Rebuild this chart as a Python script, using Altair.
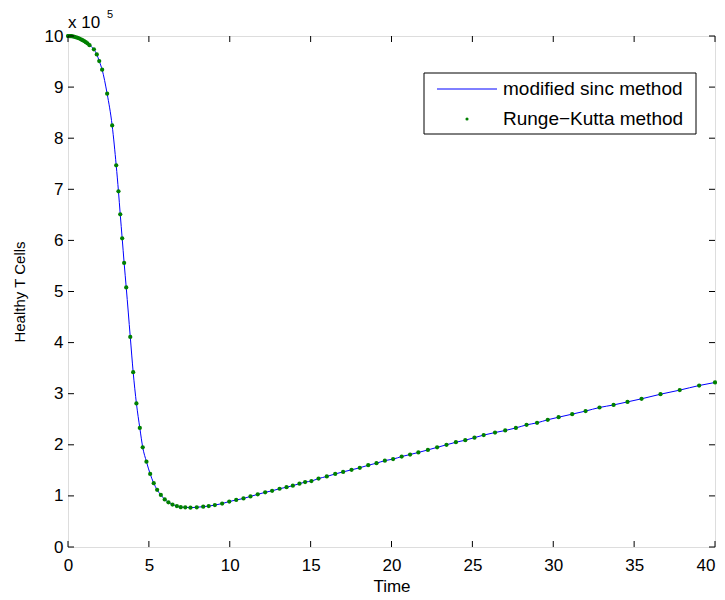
import altair as alt
import pandas as pd

# Runge-Kutta sample times and values (Healthy T cells)
t_vals = [0, 0.02, 0.05, 0.1, 0.15, 0.2, 0.3, 0.4, 0.5, 0.6, 0.7, 0.8, 0.9, 1.0, 1.1, 1.2,
          1.33, 1.6, 1.78, 1.93, 2.11, 2.42, 2.73, 2.98, 3.12, 3.23, 3.35, 3.47, 3.6, 3.85,
          4.03, 4.23, 4.44, 4.62, 4.85, 5.08, 5.3, 5.51, 5.74, 5.98, 6.21, 6.46, 6.73, 6.97,
          7.25, 7.57, 7.96, 8.36, 8.7, 9.08, 9.53, 9.97, 10.4, 10.85, 11.28, 11.73, 12.19,
          12.62, 13.08, 13.51, 13.9, 14.31, 14.66, 15.05, 15.49, 16.0, 16.52, 17.01, 17.53,
          18.04, 18.56, 19.07, 19.59, 20.1, 20.63, 21.15, 21.66, 22.25, 22.82, 23.4, 23.98,
          24.56, 25.13, 25.7, 26.4, 27.03, 27.69, 28.35, 29.0, 29.66, 30.33, 31.17, 32.0,
          32.86, 33.73, 34.59, 35.46, 36.63, 37.82, 39.02, 40.0]
cells_e5 = [10.0, 10.0, 10.0, 9.999, 9.998, 9.996, 9.991, 9.984, 9.975, 9.964, 9.951, 9.936,
            9.919, 9.90, 9.879, 9.856, 9.82, 9.74, 9.64, 9.51, 9.34, 8.87, 8.25, 7.47, 6.96,
            6.51, 6.04, 5.56, 5.08, 4.11, 3.42, 2.81, 2.33, 1.95, 1.67, 1.43, 1.25, 1.12, 1.02,
            0.93, 0.875, 0.83, 0.80, 0.78, 0.777, 0.77, 0.777, 0.79, 0.80, 0.82, 0.85, 0.89,
            0.92, 0.95, 0.99, 1.03, 1.07, 1.10, 1.14, 1.17, 1.20, 1.24, 1.27, 1.29, 1.34, 1.38,
            1.43, 1.47, 1.51, 1.55, 1.60, 1.64, 1.69, 1.72, 1.77, 1.81, 1.85, 1.90, 1.95, 2.00,
            2.05, 2.09, 2.14, 2.19, 2.24, 2.28, 2.33, 2.39, 2.43, 2.49, 2.54, 2.60, 2.66, 2.73,
            2.78, 2.84, 2.90, 2.99, 3.07, 3.16, 3.22]

x_ticks = [0, 5, 10, 15, 20, 25, 30, 35, 40]
y_ticks_e5 = [0, 1, 2, 3, 4, 5, 6, 7, 8, 9, 10]
legend_labels = ["modified sinc method", "Runge\u2212Kutta method"]

W, H = 647, 511
FONT = "Liberation Sans"

df = pd.DataFrame({"t": t_vals, "cells": [v * 1e5 for v in cells_e5]})
xt = pd.DataFrame({"t": x_ticks})
yt = pd.DataFrame({"cells": [v * 1e5 for v in y_ticks_e5]})

xscale = alt.Scale(domain=[0, 40], nice=False, zero=False)
yscale = alt.Scale(domain=[0, 1e6], nice=False, zero=False)

xaxis = alt.Axis(values=x_ticks, ticks=False, domain=False, grid=False, labelFontSize=17,
                 labelPadding=10, labelColor="black", labelFont=FONT, title="Time",
                 labelAlign={"condition": {"test": "datum.value == 40", "value": "right"},
                             "value": "center"},
                 titleFont=FONT, titleFontSize=17, titleFontWeight="normal",
                 titleColor="black", titlePadding=5, labelFlush=False)
yaxis = alt.Axis(values=[v * 1e5 for v in y_ticks_e5], ticks=False, domain=False, grid=False,
                 labelFontSize=17, labelPadding=5, labelColor="black", labelFont=FONT,
                 labelExpr="format(datum.value / 100000, 'd')", title="Healthy T Cells",
                 titleFont=FONT, titleFontSize=15, titleFontWeight="normal",
                 titleColor="black", titlePadding=17, labelFlush=False)

line = alt.Chart(df).mark_line(color="#0000ff", strokeWidth=1, interpolate="monotone").encode(
    x=alt.X("t:Q", scale=xscale, axis=xaxis),
    y=alt.Y("cells:Q", scale=yscale, axis=yaxis),
)
pts = alt.Chart(df).mark_circle(color="#008000", size=18, opacity=1).encode(
    x=alt.X("t:Q", scale=xscale),
    y=alt.Y("cells:Q", scale=yscale),
)

tick_len = 6
bt = alt.Chart(xt).mark_rule(color="black", strokeWidth=1).encode(
    x=alt.X("t:Q", scale=xscale), y=alt.value(H), y2=alt.value(H - tick_len))
tt = alt.Chart(xt).mark_rule(color="black", strokeWidth=1).encode(
    x=alt.X("t:Q", scale=xscale), y=alt.value(0), y2=alt.value(tick_len))
lt = alt.Chart(yt).mark_rule(color="black", strokeWidth=1).encode(
    y=alt.Y("cells:Q", scale=yscale), x=alt.value(0), x2=alt.value(tick_len))
rt = alt.Chart(yt).mark_rule(color="black", strokeWidth=1).encode(
    y=alt.Y("cells:Q", scale=yscale), x=alt.value(W), x2=alt.value(W - tick_len))

# Legend box
one = pd.DataFrame({"k": [0]})
lbox = alt.Chart(one).mark_rect(fill="white", stroke="black", strokeWidth=1).encode(
    x=alt.value(356), x2=alt.value(628), y=alt.value(37), y2=alt.value(98))
lline = alt.Chart(one).mark_rule(color="#0000ff", strokeWidth=1).encode(
    x=alt.value(369), x2=alt.value(429), y=alt.value(53))
ldot = alt.Chart(one).mark_circle(color="#008000", size=10, opacity=1).encode(
    x=alt.value(399), y=alt.value(83))
ltxt1 = alt.Chart(pd.DataFrame({"label": [legend_labels[0]]})).mark_text(
    align="left", baseline="middle", font=FONT, fontSize=19, color="black").encode(
    x=alt.value(435), y=alt.value(53), text="label:N")
ltxt2 = alt.Chart(pd.DataFrame({"label": [legend_labels[1]]})).mark_text(
    align="left", baseline="middle", font=FONT, fontSize=19, color="black").encode(
    x=alt.value(435), y=alt.value(83), text="label:N")

# exponent label
exp1 = alt.Chart(pd.DataFrame({"s": ["x 10"]})).mark_text(
    align="left", baseline="middle", font=FONT, fontSize=17, color="black").encode(
    x=alt.value(0), y=alt.value(-13), text="s:N")
exp2 = alt.Chart(pd.DataFrame({"s": ["5"]})).mark_text(
    align="left", baseline="middle", font=FONT, fontSize=11, color="black").encode(
    x=alt.value(39), y=alt.value(-21), text="s:N")

chart = alt.layer(line, pts, bt, tt, lt, rt, lbox, lline, ldot, ltxt1, ltxt2, exp1, exp2).properties(
    width=W, height=H,
    autosize=alt.AutoSizeParams(type="none"),
    padding={"left": 60, "top": 28, "right": 2, "bottom": 52},
).configure_view(stroke="black", strokeWidth=1).configure(background="white")

chart.save("out.html", embed_options={"renderer": "svg", "actions": False})
